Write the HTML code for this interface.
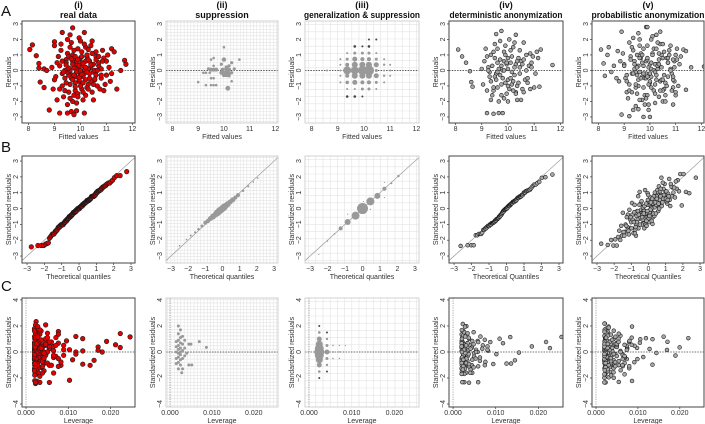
<!DOCTYPE html>
<html><head><meta charset="utf-8">
<style>
html,body{margin:0;padding:0;background:#fff;}
svg{display:block;font-family:"Liberation Sans",Arial,sans-serif;}
</style></head>
<body>
<svg id="fig" width="705" height="424" viewBox="0 0 705 424" xmlns="http://www.w3.org/2000/svg"></svg>
<script>
// ---------- data: (i) real data ----------
const realFit=[8.05,8.15,8.3,8.4,8.4,8.45,8.6,8.6,8.7,8.8,9.2,9.5,9.65,9.75,9.85,10.15,9.3,9.7,10.15,11.2,11.3,11.55,11.7,11.75,11.4,9.0,9.0,8.95,9.1,
9.2,9.4,9.5,9.6,9.7,9.8,9.9,10.0,10.1,10.2,10.3,10.4,10.5,10.6,
9.3,9.45,9.55,9.65,9.75,9.85,9.95,10.05,10.15,10.25,10.35,10.45,10.55,10.7,
9.15,9.35,9.5,9.6,9.75,9.9,10.0,10.1,10.2,10.3,10.45,10.6,10.8,10.9,
9.05,9.25,9.45,9.6,9.7,9.8,9.95,10.05,10.2,10.35,10.5,10.65,10.85,11.0,
9.2,9.4,9.55,9.7,9.85,9.95,10.05,10.15,10.25,10.4,10.55,10.7,10.95,11.1,
9.1,9.3,9.5,9.65,9.8,9.9,10.0,10.1,10.25,10.4,10.6,10.75,11.0,11.15,
8.9,9.3,9.45,9.6,9.75,9.85,10.0,10.1,10.2,10.3,10.5,10.65,10.8,11.05,
9.0,9.4,9.55,9.7,9.8,9.95,10.05,10.15,10.3,10.45,10.6,10.8,10.9,11.2,
9.25,9.5,9.6,9.75,9.9,10.0,10.1,10.2,10.35,10.5,10.7,10.85,9.35,9.85,
9.55,9.7,9.95,10.1,10.25,10.4,9.45,9.65,9.8,10.05,10.3,10.55,9.6,9.9];
const realRes=[1.35,1.65,0.95,0.45,0.15,-0.75,-1.1,0.1,0.0,-2.55,-2.75,-2.75,-2.65,-2.85,-2.6,-2.75,2.45,2.75,2.45,1.4,1.2,0.0,0.65,0.4,-1.2,1.85,1.6,-1.2,-1.9,
0.3,-0.5,1.1,-0.2,0.6,-1.3,0.1,0.8,-0.4,1.5,-0.9,0.2,-0.1,0.9,
-1.0,0.7,-0.3,1.8,-1.6,0.4,-0.7,1.2,0.0,-1.1,0.6,1.9,-0.6,0.3,
0.9,-1.7,-0.1,-0.9,0.2,1.4,-0.3,-1.9,0.6,0.1,-1.4,1.2,-0.5,0.8,
-0.4,1.3,0.5,0.0,-2.0,-0.8,2.1,0.5,-0.6,-0.2,0.4,-1.0,1.3,-0.3,
-1.2,0.0,-1.4,1.0,-0.1,0.3,-1.2,1.7,0.9,-0.7,0.0,0.5,-0.9,0.2,
0.5,-0.2,2.0,-0.5,0.9,-1.5,0.0,-0.8,1.0,1.6,-0.3,-1.2,0.6,-0.7,
0.2,0.6,-0.8,-1.8,1.3,0.6,-1.0,0.3,-1.6,0.7,-0.9,0.0,0.1,1.0,
-0.6,-1.3,0.9,0.4,-0.4,-0.6,0.9,-0.2,-1.2,1.1,0.7,-0.3,-1.3,-0.2,
1.7,-2.2,1.5,-0.3,0.7,1.9,-1.4,0.2,-0.5,-1.9,0.9,0.6,-0.1,-2.1,
0.15,-0.6,-0.45,0.45,-0.1,0.35,0.35,0.75,-1.05,-0.25,1.35,-0.55,2.3,-1.7];
// ---------- data: (iv) deterministic anonymization ----------
const detFit=[8.1,8.25,8.4,8.55,8.6,8.65,9.2,9.45,9.65,9.8,9.75,9.55,10.3,11.7,11.25,11.2,11.15,
9.1,9.3,9.45,9.6,9.75,9.9,10.0,10.15,10.3,10.45,10.6,10.75,10.9,11.05,
9.2,9.35,9.55,9.7,9.85,9.95,10.1,10.25,10.4,10.55,10.7,10.85,11.0,9.0,
9.05,9.25,9.4,9.6,9.7,9.8,10.0,10.2,10.35,10.5,10.65,10.8,10.95,9.5,
9.15,9.35,9.5,9.65,9.8,9.9,10.05,10.15,10.3,10.45,10.6,10.75,10.9,11.1,
9.3,9.45,9.6,9.75,9.85,9.95,10.1,10.25,10.4,10.55,10.7,10.85,9.2,10.0,
9.4,9.55,9.7,9.85,10.0,10.15,10.3,10.45,9.35,9.65,9.9,10.05,10.2,10.35,
9.25,9.5,9.75,10.0,10.25,10.5,9.6,9.85,10.1,10.35,10.6,9.45,9.95,10.2];
const detRes=[1.35,0.9,0.5,-0.05,-0.75,-1.05,-2.75,-2.8,-2.75,-2.75,2.55,2.35,2.3,0.35,1.35,-1.05,0.8,
0.6,-0.4,1.2,-1.1,0.3,1.6,-0.6,0.9,-1.4,0.2,1.8,-0.8,0.5,-0.2,
-1.3,1.0,-0.2,0.7,-1.8,0.4,1.3,-0.3,0.8,-1.2,0.0,1.1,-1.1,0.1,
-0.9,0.2,-1.6,0.5,1.9,-0.5,0.1,1.5,-1.9,0.6,-0.6,0.3,0.9,-0.4,
1.4,-0.7,0.8,-2.0,0.0,1.0,-1.2,-0.1,0.4,1.3,-1.4,-0.5,0.2,1.2,
-0.1,-1.3,1.4,-0.9,0.6,-1.5,0.5,1.8,-0.8,0.4,1.0,-1.2,0.9,-2.0,
0.3,-0.6,-0.3,1.2,0.8,-0.9,-1.5,-0.2,-1.9,0.1,-0.8,2.0,-1.3,0.6,
0.0,1.7,-1.6,-1.0,0.2,-1.9,-0.1,0.0,-0.5,-1.0,0.7,-1.1,0.5,-0.7];
// ---------- data: (v) probabilistic anonymization ----------
const probFit=[8.1,8.2,8.25,8.35,8.4,8.5,8.6,8.7,8.8,8.9,8.9,9.2,9.35,9.55,9.75,9.95,10.0,9.85,9.9,10.4,10.25,12.1,11.6,11.3,11.4,11.4,11.0,10.9,10.5,8.75,
9.0,9.2,9.35,9.5,9.65,9.8,9.95,10.1,10.25,10.4,10.55,10.7,10.85,11.0,
9.1,9.25,9.45,9.6,9.7,9.85,10.0,10.15,10.3,10.5,10.65,10.8,10.95,11.15,
8.95,9.15,9.3,9.55,9.75,9.9,10.05,10.2,10.35,10.45,10.6,10.75,10.9,11.2,
9.05,9.3,9.4,9.6,9.8,9.95,10.1,10.25,10.4,10.55,10.7,10.9,11.05,9.7,
9.2,9.4,9.5,9.65,9.85,10.0,10.15,10.3,10.45,10.6,10.8,10.95,11.1,9.55,
8.85,9.1,9.35,9.55,9.7,9.9,10.05,10.2,10.35,10.5,10.7,10.85,11.05,9.45,
9.0,9.25,9.45,9.6,9.75,9.9,10.05,10.2,10.35,10.5,10.65,10.8,10.95,9.8,
9.1,9.3,9.5,9.7,9.85,10.0,10.1,10.25,10.4,10.55,10.7,10.9,11.0,10.15,
9.2,9.45,9.6,9.75,9.9,10.05,10.2,10.3,10.45,10.6,10.75,10.9,9.35,9.95,
9.5,9.65,9.9,10.05,10.2,10.35,9.4,9.6,9.75,10.0,10.25,10.5,9.55,9.85];
const probRes=[1.35,0.45,-0.35,1.0,1.5,-0.1,0.3,-0.5,-0.7,2.5,-2.85,-2.95,-2.55,-2.5,-3.0,-2.55,-3.0,2.8,2.8,2.5,2.3,0.25,0.2,1.35,1.25,-1.25,-1.6,-2.2,-2.0,1.25,
0.4,-0.9,1.3,-0.3,0.8,-1.6,0.2,1.1,-0.6,1.7,-1.2,0.5,-0.2,1.0,
-1.4,0.9,-0.1,2.0,-1.9,0.6,-0.8,1.4,0.1,-1.3,0.8,1.6,-0.7,0.4,
1.1,-1.8,-0.2,-1.0,0.3,1.6,-0.4,-2.1,0.7,0.2,-1.6,1.3,-0.6,0.9,
-0.5,1.5,0.6,-0.1,-2.2,-0.9,2.2,0.4,-0.7,-0.3,0.5,-1.1,1.4,-0.4,
-1.3,0.1,-1.5,1.1,-0.2,0.4,-1.3,1.8,1.0,-0.8,0.1,0.6,-1.0,0.3,
0.6,-0.3,2.1,-0.6,1.0,-1.6,0.1,-0.9,1.1,1.7,-0.4,-1.3,0.7,-1.1,
0.3,0.7,-0.9,-1.9,1.4,0.7,-1.1,0.4,-1.7,0.8,-1.0,0.0,0.2,-0.5,
-0.7,-1.4,1.0,0.5,-0.5,-0.7,1.0,-0.3,-1.3,1.2,0.8,-0.4,-1.4,0.0,
1.8,-2.3,1.6,-0.2,0.8,2.0,-1.5,0.3,-0.6,-2.0,1.0,0.7,-0.2,-2.2,
0.2,-0.5,-0.4,0.5,-0.1,0.4,0.4,0.8,-1.1,-0.2,1.4,-0.6,2.4,-1.8];
// ---------- data: (ii) suppression ----------
const supFit=[10.0,9.6,9.5,10.0,10.6,10.3,9.9,9.6,10.2,9.4,9.5,9.6,9.7,9.95,10.1,10.2,10.4,9.2,9.3,9.45,9.9,10.0,10.1,10.2,10.3,10.0,10.1,10.2,9.5,9.6,9.0,10.3,9.3,9.5,9.6,9.7,10.15,10.1];
const supRes=[1.5,0.8,0.7,0.7,0.7,0.5,0.4,0.3,0.3,0.1,0.05,0.05,0.05,0.05,0.1,0.05,0.1,-0.15,-0.15,-0.15,-0.15,-0.15,-0.1,-0.2,-0.15,-0.3,-0.3,-0.35,-0.5,-0.5,-0.75,-0.7,-0.95,-0.95,-0.95,-0.95,-1.15,0.2];
const supSize=[1.3,1.3,1.3,2.2,1.3,1.6,1.6,1.3,1.6,1.6,2,2,2,2,2,2,1.6,1.3,1.3,1.3,2,2,2,2,1.6,2,2,1.6,1.3,1.3,1.3,1.3,1.3,1.3,1.3,1.3,2.4,2];
const supQx=[-2.5,-2.1,-1.85,-1.6,-1.4,-1.2,-1.0,-0.85,-0.7,-0.55,-0.4,-0.3,-0.2,-0.1,0.0,0.1,0.2,0.3,0.45,0.6,0.75,0.9,1.2,1.5,1.8,2.05];
const supQy=[-2.35,-1.95,-1.7,-1.5,-1.3,-1.1,-0.9,-0.78,-0.63,-0.5,-0.37,-0.27,-0.17,-0.08,0.0,0.1,0.19,0.28,0.42,0.55,0.7,0.85,1.12,1.4,1.68,1.92];
const supQr=[0.8,0.8,1,1,1.2,1.5,2,2.2,2.5,3,3,3.5,3.5,3.5,3.5,3.5,3,3,2.5,2.5,2,2,1.2,1,0.8,0.8];
const supLev=[0.0015,0.0015,0.0015,0.0015,0.0015,0.002,0.002,0.002,0.002,0.002,0.002,0.002,0.002,0.002,0.0025,0.0025,0.0025,0.0025,0.0025,0.0025,0.0025,0.0025,0.003,0.003,0.003,0.003,0.003,0.0035,0.0035,0.0035,0.0045,0.005,0.0045,0.0052,0.007,0.0087,0.004,0.0028];
const supLevRes=[-0.5,0.0,0.4,-0.9,0.8,-1.3,-0.8,-0.4,-0.1,0.2,0.5,0.9,1.4,2.0,-1.0,-0.6,-0.2,0.0,0.3,0.7,1.1,1.7,-1.3,-0.5,0.1,0.6,1.2,-0.3,0.3,0.9,0.6,0.6,-1.0,-1.0,0.8,0.35,-0.1,-1.6];
// ---------- data: (iii) generalization & suppression ----------
const genFit=[8.59,9.1,9.36,9.65,9.94,10.19,10.47,10.77,11.0,
9.1,9.36,9.65,9.94,10.19,10.47,10.77,11.0,
9.1,9.36,9.65,9.94,10.19,10.47,10.77,11.0,
9.1,9.36,9.65,9.94,10.19,10.47,10.77,
9.1,9.36,9.65,9.94,10.19,10.47,10.77,
9.36,9.65,9.94,10.19,10.47,
9.36,9.65,9.94,10.19,10.47,
9.65,9.94,10.19,9.36,9.65,9.94,10.19,10.47];
const genRes=[0,0,0,0,0,0,0,0,0,
0.37,0.37,0.37,0.37,0.37,0.37,0.37,0.37,
-0.34,-0.34,-0.34,-0.34,-0.34,-0.34,-0.34,-0.34,
0.73,0.73,0.73,0.73,0.73,0.73,0.73,
-0.77,-0.77,-0.77,-0.77,-0.77,-0.77,-0.77,
1.12,1.12,1.12,1.12,1.12,
-1.2,-1.2,-1.2,-1.2,-1.2,
1.55,1.55,1.55,-1.68,-1.68,-1.68,2.0,2.0];
const genSize=[1,1,4,4,4.5,5,1.5,1,1,
1,2,3,3,3,2.5,1.2,1,
1,2,3,3,3,2.5,1.2,1,
1,1.5,2.5,2,2,1.5,1,
1,1.8,2.5,2,2,1.5,1,
1,1.5,1.5,1.5,1,
1,1,1.5,1.5,1,
1.3,1,1.3,1.3,1.3,1,1,1];
const genQx=[-2.5,-2.0,-1.6,-1.25,-0.85,-0.4,0.0,0.45,0.85,1.25,1.65,2.05,1.25,1.25,0.45,-0.85,0.05];
const genQy=[-2.9,-2.05,-1.6,-1.25,-0.85,-0.45,0.0,0.45,0.8,1.25,1.6,2.05,1.65,0.7,-0.05,-0.35,0.45];
const genQr=[0.6,0.7,0.8,2,3,4,5.5,4,3,2,1,1.2,0.6,0.6,0.6,0.6,0.6];
const genLev=[0.0024,0.0024,0.0024,0.0024,0.0024,0.0024,0.0024,0.0024,0.0024,0.0024,0.0024,
0.0042,0.0042,0.0042,0.0042,0.0042,0.0042,0.0042,0.0056,0.0056,0.0056,0.0071,0.0071,0.0071,0.0085];
const genLevRes=[-2,-1.5,-1,-0.6,-0.25,0,0.25,0.6,1,1.5,2,-1.5,-1,-0.5,0,0.5,1,1.5,-0.5,0,0.5,-0.5,0,0.5,0.5];
const genLevSize=[1,1.3,2.5,3.5,4.5,5,4.5,3.5,2.5,1.3,1,1,1.2,1.5,2.5,1.5,1.2,1,0.8,1,0.8,0.7,0.7,0.7,0.6];
const nObs=430;
// tick label arrays
const fitTicks=[8,9,10,11,12];
const resTicks=[-3,-2,-1,0,1,2,3];
const qTicks=[-3,-2,-1,0,1,2,3];
const levTicks=[0,0.01,0.02];
const levTickLabels=["0.000","0.010","0.020"];
const stdTicks=[-4,-2,0,2,4];
const colTitles=["(i)","(ii)","(iii)","(iv)","(v)"];
const colNames=["real data","suppression","generalization & suppression","deterministic anonymization","probabilistic anonymization"];

// ---------- layout ----------
const colX=[22,166,305,449,592];
const colW=[113,112,114,114,112];
const rowY=[21,156,298];
const rowH=[102,107,109];
const XD=[[7.75,12.1],[-3.29,3.23],[-0.00095,0.02577]];
const YD=[[-3.39,3.19],[-3.44,3.32],[-4.23,4.15]];
const NS="http://www.w3.org/2000/svg";
const svg=document.getElementById('fig');
function el(tag,attrs,parent){const e=document.createElementNS(NS,tag);for(const k in attrs)e.setAttribute(k,attrs[k]);(parent||svg).appendChild(e);return e;}
function sx(r,c,v){return colX[c]+(v-XD[r][0])/(XD[r][1]-XD[r][0])*colW[c];}
function sy(r,v){return rowY[r]+rowH[r]-(v-YD[r][0])/(YD[r][1]-YD[r][0])*rowH[r];}
function qnorm(p){const a=[-39.69683028665376,220.9460984245205,-275.9285104469687,138.3577518672690,-30.66479806614716,2.506628277459239],b=[-54.47609879822406,161.5858368580409,-155.6989798598866,66.80131188771972,-13.28068155288572],c=[-0.007784894002430293,-0.3223964580411365,-2.400758277161838,-2.549671010115819,4.374664141464968,2.938163982698783],d=[0.007784695709041462,0.3224671290700398,2.445134137142996,3.754408661907416];const pl=0.02425;let q,r;
if(p<pl){q=Math.sqrt(-2*Math.log(p));return(((((c[0]*q+c[1])*q+c[2])*q+c[3])*q+c[4])*q+c[5])/((((d[0]*q+d[1])*q+d[2])*q+d[3])*q+1);}
if(p>1-pl){q=Math.sqrt(-2*Math.log(1-p));return -(((((c[0]*q+c[1])*q+c[2])*q+c[3])*q+c[4])*q+c[5])/((((d[0]*q+d[1])*q+d[2])*q+d[3])*q+1);}
q=p-0.5;r=q*q;return(((((a[0]*r+a[1])*r+a[2])*r+a[3])*r+a[4])*r+a[5])*q/(((((b[0]*r+b[1])*r+b[2])*r+b[3])*r+b[4])*r+1);}

[["A",16],["B",152],["C",291]].forEach(([t,y])=>{const e=el('text',{x:1,y:y,'font-size':15,fill:'#111'});e.textContent=t;

});
for(let c=0;c<5;c++){const cx=colX[c]+colW[c]/2;
const t1=el('text',{x:cx,y:8,'font-size':9,'font-weight':'bold','text-anchor':'middle',fill:'#111'});t1.textContent=colTitles[c];


const at={x:cx,y:18,'font-size':9,'font-weight':'bold','text-anchor':'middle',fill:'#111'};
if(c>=2){at.textLength=c===2?116:113;at.lengthAdjust='spacingAndGlyphs';}
const t2=el('text',at);t2.textContent=colNames[c];

}

function panel(r,c,opts){
const g=el('g',{});


const x0=colX[c],y0=rowY[r],w=colW[c],h=rowH[r];const gg=(c===1||c===2);
if(gg){const step=c===1?3.3:7.2;
for(let x=x0+step/2;x<x0+w;x+=step){const l=el('line',{x1:x,x2:x,y1:y0,y2:y0+h,stroke:'#e3e3e3','stroke-width':0.6},g);

}
for(let y=y0+step/2;y<y0+h;y+=step){const l=el('line',{x1:x0,x2:x0+w,y1:y,y2:y,stroke:'#e3e3e3','stroke-width':0.6},g);

}}
const xt=[fitTicks,qTicks,levTicks][r],yt=[resTicks,qTicks,stdTicks][r];
xt.forEach((v,i)=>{const px=sx(r,c,v);if(!gg){el('line',{x1:px,x2:px,y1:y0+h,y2:y0+h+2,stroke:'#333','stroke-width':0.7},g);}
const t=el('text',{x:px,y:y0+h+8,'font-size':7,'text-anchor':'middle',fill:'#333'},g);t.textContent=r===2?levTickLabels[i]:String(v).replace('-','\u2212');

});
yt.forEach(v=>{const py=sy(r,v);if(!gg){el('line',{x1:x0-2,x2:x0,y1:py,y2:py,stroke:'#333','stroke-width':0.7},g);}
const t=el('text',{x:x0-4,y:py,'font-size':7,'text-anchor':'middle',fill:'#333',transform:`rotate(-90 ${x0-4} ${py})`},g);t.textContent=String(v).replace('-','\u2212');

});
const xtT=el('text',{x:x0+w/2,y:y0+h+16,'font-size':7,'text-anchor':'middle',fill:'#333'},g);
xtT.textContent=r===0?'Fitted values':r===2?'Leverage':(c>=3?'Theoretical Quantiles':'Theoretical quantiles');


const yx=x0-11,yy=y0+h/2;
const ytT=el('text',{x:yx,y:yy,'font-size':7,'text-anchor':'middle',fill:'#333',transform:`rotate(-90 ${yx} ${yy})`},g);
ytT.textContent=r===0?'Residuals':'Standardized residuals';


const cp=el('clipPath',{id:'cp'+r+c},g);el('rect',{x:x0,y:y0,width:w,height:h},cp);
const pg=el('g',{'clip-path':`url(#cp${r}${c})`},g);
if(r===1){const l=el('line',{x1:sx(1,c,-4),y1:sy(1,-4),x2:sx(1,c,4),y2:sy(1,4),stroke:'#999','stroke-width':0.7},pg);

}
else{const l=el('line',{x1:x0,x2:x0+w,y1:sy(r,0),y2:sy(r,0),stroke:'#444','stroke-width':0.8,'stroke-dasharray':'1.5 1.2'},pg);


if(r===2){const v=el('line',{x1:sx(2,c,0),x2:sx(2,c,0),y1:y0,y2:y0+h,stroke:'#888','stroke-width':0.7,'stroke-dasharray':'1.2 1.2'},pg);

}}
opts.pts.forEach(p=>{const ci=el('circle',{cx:sx(r,c,p[0]),cy:sy(r,p[1]),r:p[2],fill:p[3]||opts.fill,stroke:opts.stroke,'stroke-width':opts.sw},pg);

});
const bx=el('rect',{x:x0,y:y0,width:w,height:h,fill:'none',stroke:gg?'#c8c8c8':'#444','stroke-width':gg?0.8:1},g);

}

function mean(a){return a.reduce((s,v)=>s+v,0)/a.length;}
function sd(a){const m=mean(a);return Math.sqrt(a.reduce((s,v)=>s+(v-m)*(v-m),0)/(a.length-1));}
function qqPoints(res,rad){const s=sd(res);const idx=res.map((v,i)=>i).sort((a,b)=>res[a]-res[b]);const n=res.length;return idx.map((k,j)=>[qnorm((j+0.5)/n),res[k]/s,rad]);}
function levPoints(fit,res,rad){const m=mean(fit),v=sd(fit)**2,s=sd(res);return fit.map((f,i)=>{const hh=1/500+(f-m)*(f-m)/(nObs*v*0.77);return[hh,res[i]/s/Math.sqrt(1-hh),rad];});}
function zipP(x,y,r){return x.map((v,i)=>[v,y[i],Array.isArray(r)?r[i]:r]);}

const dense=[[0,realFit,realRes,'#e00000'],[3,detFit,detRes,'#a8a8a8'],[4,probFit,probRes,'#a8a8a8']];
dense.forEach(([c,F,R,fill])=>{
const rad=c===0?2.3:1.9;
panel(0,c,{fill:fill,stroke:'#1a1a1a',sw:0.6,pts:zipP(F,R,rad)});
let qq;
if(c===4){const s=sd(R);const key=R.map((v,i)=>v/s+(F[i]-mean(F))*0.9);const idx=key.map((v,i)=>i).sort((a,b)=>key[a]-key[b]);const n=R.length;qq=new Array(n);idx.forEach((k,j)=>{qq[k]=[qnorm((j+0.5)/n),R[k]/s,rad];});}
else qq=qqPoints(R,rad);
panel(1,c,{fill:fill,stroke:'#1a1a1a',sw:0.6,pts:qq});
panel(2,c,{fill:fill,stroke:'#1a1a1a',sw:0.6,pts:levPoints(F,R,rad)});
});
panel(0,1,{fill:'#999',stroke:'none',sw:0,pts:zipP(supFit,supRes,supSize)});
panel(1,1,{fill:'#999',stroke:'none',sw:0,pts:zipP(supQx,supQy,supQr)});
panel(2,1,{fill:'#999',stroke:'none',sw:0,pts:zipP(supLev,supLevRes,1.5)});
panel(0,2,{fill:'#999',stroke:'none',sw:0,pts:zipP(genFit,genRes,genSize).map(p=>p[2]<=1.5&&Math.abs(p[1])>1.3?[p[0],p[1],p[2],'#444']:p)});
panel(1,2,{fill:'#999',stroke:'none',sw:0,pts:zipP(genQx,genQy,genQr)});
panel(2,2,{fill:'#999',stroke:'none',sw:0,pts:zipP(genLev,genLevRes,genLevSize).map(p=>p[2]<=1.2&&Math.abs(p[1])>=1.5?[p[0],p[1],p[2],'#444']:p)});
</script>
</body></html>
